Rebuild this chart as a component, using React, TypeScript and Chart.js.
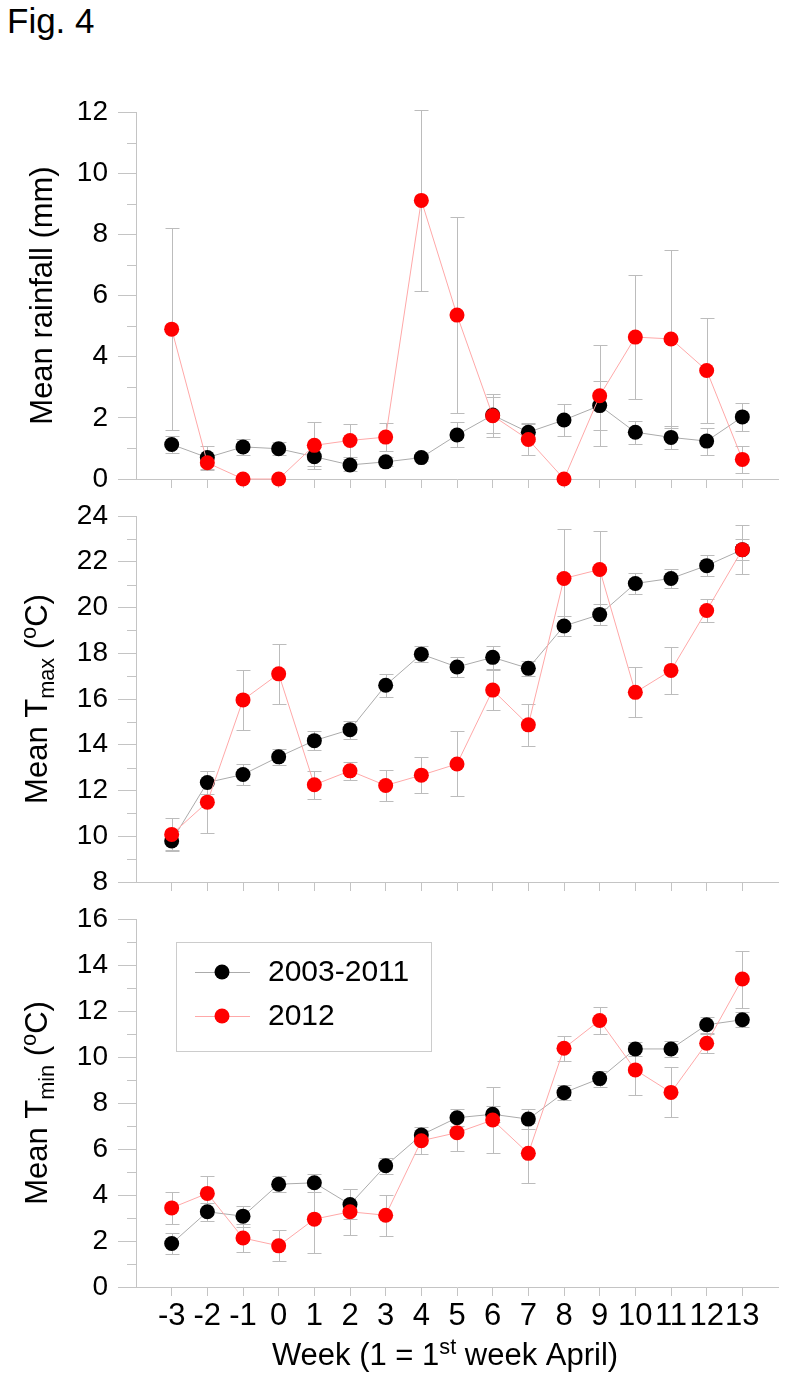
import React, { useEffect, useRef } from "react";
import { Chart, registerables } from "chart.js";
Chart.register(...registerables);

const FONT = '"Liberation Sans", Arial, sans-serif';

// ---- data ----
const weeks = [-3, -2, -1, 0, 1, 2, 3, 4, 5, 6, 7, 8, 9, 10, 11, 12, 13];
const seriesNames = ["2003-2011", "2012"];

const rainMeanBase = [1.13, 0.7, 1.05, 0.99, 0.73, 0.46, 0.56, 0.7, 1.44, 2.09, 1.53, 1.93, 2.4, 1.53, 1.36, 1.24, 2.03];
const rainErrBase = [0.29, 0.38, 0.27, 0.22, 0.3, 0.2, 0.15, 0.12, 0.41, 0.6, 0.3, 0.53, 0.8, 0.38, 0.38, 0.44, 0.47];
const rainMean2012 = [4.9, 0.53, 0, 0, 1.1, 1.26, 1.37, 9.11, 5.36, 2.07, 1.29, 0, 2.72, 4.64, 4.58, 3.55, 0.64];
const rainErr2012 = [3.3, 0.25, 0, 0, 0.78, 0.55, 0.46, 2.97, 3.2, 0.7, 0.5, 0, 1.65, 2.03, 2.9, 1.72, 0.45];

const tmaxMeanBase = [9.79, 12.35, 12.7, 13.47, 14.18, 14.66, 16.6, 17.96, 17.4, 17.82, 17.34, 19.19, 19.69, 21.05, 21.27, 21.83, 22.53];
const tmaxErrBase = [0.45, 0.5, 0.46, 0.35, 0.41, 0.4, 0.5, 0.36, 0.45, 0.5, 0.33, 0.42, 0.47, 0.44, 0.4, 0.47, 0.47];
const tmaxMean2012 = [10.08, 11.49, 15.96, 17.1, 12.25, 12.86, 12.22, 12.67, 13.16, 16.39, 14.87, 21.27, 21.66, 16.29, 17.25, 19.87, 22.53];
const tmaxErr2012 = [0.7, 1.35, 1.3, 1.31, 0.61, 0.38, 0.69, 0.78, 1.42, 0.89, 0.92, 2.15, 1.69, 1.09, 1.02, 0.52, 1.07];

const tminMeanBase = [1.89, 3.27, 3.08, 4.47, 4.53, 3.59, 5.27, 6.61, 7.36, 7.51, 7.3, 8.45, 9.06, 10.35, 10.35, 11.4, 11.62];
const tminErrBase = [0.45, 0.4, 0.45, 0.35, 0.4, 0.65, 0.35, 0.2, 0.38, 0.35, 0.43, 0.34, 0.35, 0.31, 0.36, 0.36, 0.32];
const tminMean2012 = [3.44, 4.07, 2.13, 1.79, 2.95, 3.27, 3.12, 6.36, 6.71, 7.26, 5.81, 10.38, 11.59, 9.44, 8.46, 10.6, 13.39];
const tminErr2012 = [0.7, 0.75, 0.6, 0.67, 1.45, 1.0, 0.9, 0.58, 0.79, 1.43, 1.3, 0.55, 0.58, 1.09, 1.09, 0.41, 1.24];

type Seg = { t: string; sub?: boolean; sup?: boolean };
const rainTitle: Seg[] = [{ t: "Mean rainfall (mm)" }];
const tmaxTitle: Seg[] = [{ t: "Mean T" }, { t: "max", sub: true }, { t: " (" }, { t: "o", sup: true }, { t: "C)" }];
const tminTitle: Seg[] = [{ t: "Mean T" }, { t: "min", sub: true }, { t: " (" }, { t: "o", sup: true }, { t: "C)" }];
const xTitle: Seg[] = [{ t: "Week (1 = 1" }, { t: "st", sup: true }, { t: " week April)" }];

const lineColors = ["#ababab", "#ffa8a8"];
const pointColors = ["#000000", "#ff0000"];

// ---- helpers ----
function segFont(s: Seg, size: number) {
  const fs = s.sub || s.sup ? size * 0.7 : size;
  return `${fs}px ${FONT}`;
}
function richWidth(ctx: CanvasRenderingContext2D, segs: Seg[], size: number) {
  let w = 0;
  for (const s of segs) {
    ctx.font = segFont(s, size);
    w += ctx.measureText(s.t).width;
  }
  return w;
}
function drawRich(ctx: CanvasRenderingContext2D, segs: Seg[], size: number, x: number, y: number) {
  let cx = x;
  for (const s of segs) {
    ctx.font = segFont(s, size);
    const dy = s.sub ? size * 0.24 : s.sup ? -size * 0.36 : 0;
    ctx.fillText(s.t, cx, y + dy);
    cx += ctx.measureText(s.t).width;
  }
}

type PanelCfg = {
  means: number[][];
  errs: number[][];
  yMin: number;
  yMax: number;
  title: Seg[];
  titleX: number;
  top: number;
  height: number;
  padTop: number;
  xHeight: number;
  bottom: boolean;
};

const panels: PanelCfg[] = [
  { means: [rainMeanBase, rainMean2012], errs: [rainErrBase, rainErr2012], yMin: 0, yMax: 12, title: rainTitle, titleX: 52, top: 0, height: 509, padTop: 112, xHeight: 30, bottom: false },
  { means: [tmaxMeanBase, tmaxMean2012], errs: [tmaxErrBase, tmaxErr2012], yMin: 8, yMax: 24, title: tmaxTitle, titleX: 47, top: 486, height: 426, padTop: 30, xHeight: 30, bottom: false },
  { means: [tminMeanBase, tminMean2012], errs: [tminErrBase, tminErr2012], yMin: 0, yMax: 16, title: tminTitle, titleX: 47, top: 889, height: 490, padTop: 30, xHeight: 92, bottom: true },
];

const AXIS_COLOR = "#c4c4c4";

function Panel({ cfg }: { cfg: PanelCfg }) {
  const ref = useRef<HTMLCanvasElement>(null);
  useEffect(() => {
    const canvas = ref.current!;
    const datasets = cfg.means.map((m, d) => ({
      label: seriesNames[d],
      data: weeks.map((w, i) => ({ x: w, y: m[i] })),
      borderColor: lineColors[d],
      borderWidth: 1,
      backgroundColor: pointColors[d],
      pointBackgroundColor: pointColors[d],
      pointBorderWidth: 0,
      pointRadius: 7.5,
      tension: 0,
      clip: false as any,
      order: d === 0 ? 1 : 0,
    }));

    const plugin = {
      id: "extras",
      beforeDatasetsDraw(chart: any) {
        const ctx = chart.ctx as CanvasRenderingContext2D;
        const ys = chart.scales.y;
        ctx.save();
        ctx.strokeStyle = "#bcbcbc";
        ctx.lineWidth = 1;
        for (let d = 0; d < cfg.means.length; d++) {
          const meta = chart.getDatasetMeta(d);
          meta.data.forEach((pt: any, j: number) => {
            const m = cfg.means[d][j];
            const e = cfg.errs[d][j];
            if (!e) return;
            const x = Math.round(pt.x) + 0.5;
            const y1 = Math.round(ys.getPixelForValue(m + e)) + 0.5;
            const y2 = Math.round(ys.getPixelForValue(m - e)) + 0.5;
            ctx.beginPath();
            ctx.moveTo(x, y1);
            ctx.lineTo(x, y2);
            ctx.moveTo(x - 7, y1);
            ctx.lineTo(x + 7, y1);
            ctx.moveTo(x - 7, y2);
            ctx.lineTo(x + 7, y2);
            ctx.stroke();
          });
        }
        ctx.restore();
      },
      afterDraw(chart: any) {
        const ctx = chart.ctx as CanvasRenderingContext2D;
        const ys = chart.scales.y;
        const area = chart.chartArea;
        ctx.save();
        // minor y ticks
        ctx.strokeStyle = AXIS_COLOR;
        ctx.lineWidth = 1;
        ctx.beginPath();
        for (let v = cfg.yMin + 1; v < cfg.yMax; v += 2) {
          const y = Math.round(ys.getPixelForValue(v)) + 0.5;
          ctx.moveTo(area.left - 9, y);
          ctx.lineTo(area.left, y);
        }
        ctx.stroke();
        // y title
        ctx.fillStyle = "#000";
        ctx.textBaseline = "alphabetic";
        ctx.textAlign = "left";
        const size = 31;
        const w = richWidth(ctx, cfg.title, size);
        const cy = (area.top + area.bottom) / 2;
        ctx.save();
        ctx.translate(cfg.titleX, cy);
        ctx.rotate(-Math.PI / 2);
        drawRich(ctx, cfg.title, size, -w / 2, 0);
        ctx.restore();
        if (cfg.bottom) {
          // x title
          const xs = 31;
          const xw = richWidth(ctx, xTitle, xs);
          const cx = (area.left + area.right) / 2 - 12;
          drawRich(ctx, xTitle, xs, cx - xw / 2, area.bottom + 78);
          // legend
          const bx = area.left + 40;
          const by = area.top + 23;
          ctx.strokeStyle = "#cccccc";
          ctx.lineWidth = 1;
          ctx.strokeRect(Math.round(bx) + 0.5, Math.round(by) + 0.5, 255, 109);
          const rows = [30, 74];
          seriesNames.forEach((name, d) => {
            const ry = by + rows[d];
            ctx.strokeStyle = lineColors[d];
            ctx.beginPath();
            ctx.moveTo(bx + 19, Math.round(ry) + 0.5);
            ctx.lineTo(bx + 74, Math.round(ry) + 0.5);
            ctx.stroke();
            ctx.fillStyle = pointColors[d];
            ctx.beginPath();
            ctx.arc(bx + 46, ry, 7.5, 0, Math.PI * 2);
            ctx.fill();
            ctx.fillStyle = "#000";
            ctx.font = `30px ${FONT}`;
            ctx.textBaseline = "middle";
            ctx.fillText(name, bx + 92, ry + 1);
          });
        }
        ctx.restore();
      },
    };

    const chart = new Chart(canvas, {
      type: "line",
      data: { datasets: datasets as any },
      options: {
        responsive: false,
        animation: false,
        events: [],
        layout: { padding: { top: cfg.padTop, right: 8, bottom: 0, left: 0 } },
        plugins: { legend: { display: false }, tooltip: { enabled: false }, title: { display: false } },
        scales: {
          x: {
            type: "linear",
            min: -4,
            max: 14,
            afterBuildTicks: (s: any) => {
              s.ticks = s.ticks.filter((t: any) => t.value >= -3 && t.value <= 13);
            },
            afterFit: (s: any) => {
              s.height = cfg.xHeight;
            },
            ticks: {
              display: cfg.bottom,
              stepSize: 1,
              autoSkip: false,
              maxRotation: 0,
              minRotation: 0,
              padding: 2,
              color: "#000",
              font: { size: 31, family: FONT },
            },
            grid: { drawOnChartArea: false, drawTicks: true, tickLength: 9, color: AXIS_COLOR },
            border: { display: true, color: AXIS_COLOR },
          },
          y: {
            type: "linear",
            min: cfg.yMin,
            max: cfg.yMax,
            afterFit: (s: any) => {
              s.width = 136;
            },
            ticks: {
              stepSize: 2,
              padding: 10,
              color: "#000",
              font: { size: 28, family: FONT },
            },
            grid: { drawOnChartArea: false, drawTicks: true, tickLength: 18, color: AXIS_COLOR },
            border: { display: true, color: AXIS_COLOR },
          },
        },
      },
      plugins: [plugin as any],
    });
    return () => chart.destroy();
  }, [cfg]);
  return (
    <canvas
      ref={ref}
      width={786}
      height={cfg.height}
      style={{ position: "absolute", left: 0, top: cfg.top, width: 786, height: cfg.height }}
    />
  );
}

export default function App() {
  return (
    <div style={{ position: "absolute", left: 0, top: 0, width: 786, height: 1379, background: "#fff", overflow: "hidden" }}>
      <div style={{ position: "absolute", left: 7, top: 3, fontFamily: FONT, fontSize: 35, lineHeight: "35px", color: "#000" }}>
        Fig. 4
      </div>
      {panels.map((p, i) => (
        <Panel key={i} cfg={p} />
      ))}
    </div>
  );
}
